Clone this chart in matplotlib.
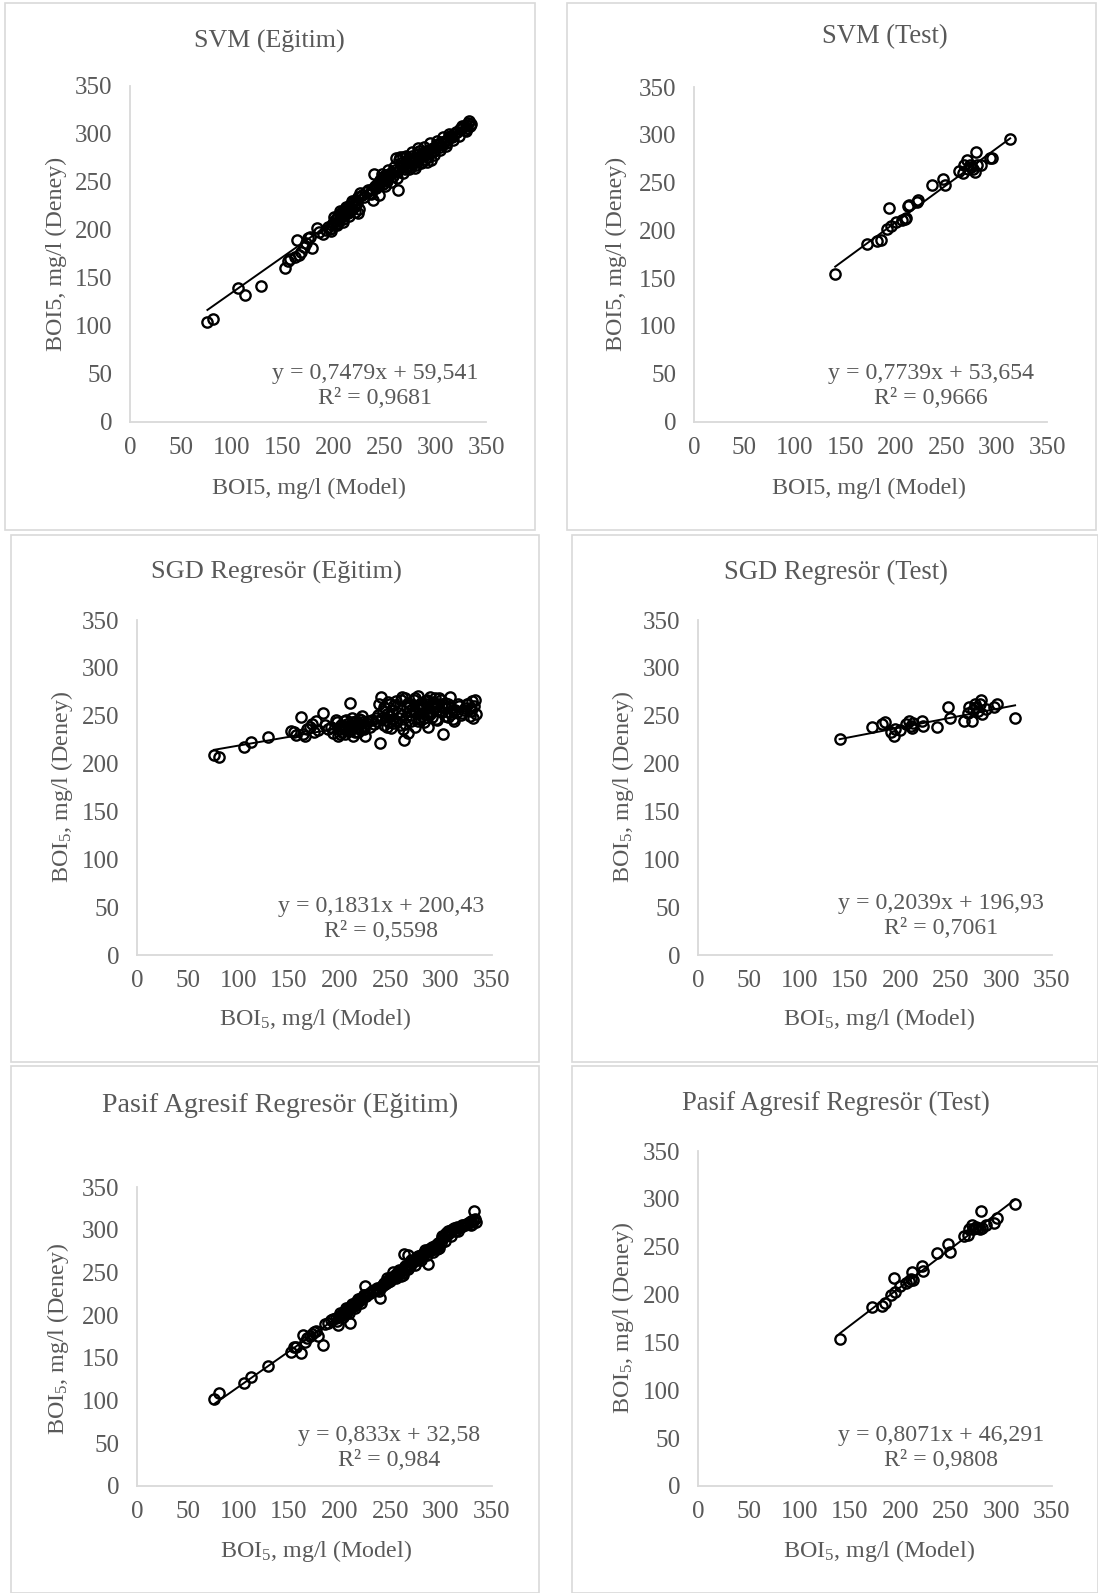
#!/usr/bin/env python3
"""Six scatter panels: model vs. measured BOI5 for SVM, SGD and Passive-Aggressive
regressors (training and test sets), each with an Excel-style linear trendline."""
import numpy as np
import matplotlib
matplotlib.use("Agg")
import matplotlib.pyplot as plt
from matplotlib.patches import Rectangle

plt.rcParams["font.family"] = ["Liberation Serif", "DejaVu Serif"]
plt.rcParams["mathtext.fontset"] = "custom"
plt.rcParams["mathtext.rm"] = "Liberation Serif"
plt.rcParams["mathtext.default"] = "regular"

# ---- data ------------------------------------------------------------------
TRAIN_X = [76, 81, 106, 113, 129, 152, 155, 157, 162, 164, 166, 168, 171, 173, 175,
           177, 179, 184, 186, 189, 192, 194, 196, 198, 199, 201, 202, 203, 204, 205,
           206, 207, 208, 209, 210, 211, 212, 213, 214, 215, 216, 217, 218, 219, 220,
           221, 222, 223, 224, 225, 226, 228, 230, 232, 234, 236, 237, 238, 239, 240,
           241, 242, 243, 244, 245, 246, 247, 248, 249, 250, 251, 252, 253, 254, 256,
           258, 260, 261, 262, 263, 264, 265, 266, 267, 268, 269, 270, 271, 272, 273,
           274, 275, 276, 277, 278, 279, 280, 281, 282, 283, 284, 285, 286, 287, 288,
           289, 290, 291, 292, 293, 294, 295, 296, 297, 298, 300, 301, 302, 304, 305,
           307, 309, 310, 312, 314, 316, 318, 321, 324, 327, 329, 330, 331, 332, 333, 334,
           197, 200, 203, 206, 209, 212, 215, 218, 221, 224, 244, 247, 250, 253, 256,
           259, 262, 265, 268, 271, 274, 277, 280, 283, 286, 289, 292, 295, 298, 301,
           304, 307, 310, 313, 317, 320, 323, 326, 330, 335]
SVM_TRAIN_Y = [104, 107, 139, 132, 141, 160, 167, 170, 172, 189, 174, 177, 182, 186, 191,
               192, 181, 202, 198, 196, 200, 203, 201, 205, 207, 210, 206, 212, 214, 209,
               216, 213, 219, 211, 215, 220, 217, 223, 218, 225, 221, 227, 222, 229, 224,
               226, 231, 228, 218, 222, 238, 236, 234, 239, 241, 238, 237, 243, 231, 258,
               246, 244, 249, 247, 252, 250, 254, 248, 256, 253, 257, 251, 255, 258, 259,
               256, 262, 275, 260, 242, 273, 264, 270, 266, 276, 268, 263, 271, 265, 274,
               268, 272, 266, 277, 270, 273, 275, 268, 279, 274, 282, 276, 278, 271, 280,
               277, 274, 282, 279, 276, 283, 280, 273, 285, 282, 286, 288, 290, 286, 292,
               289, 293, 291, 295, 298, 297, 300, 302, 305, 307, 304, 309, 306, 311, 313, 308,
               199, 213, 205, 220, 208, 224, 214, 230, 219, 234, 236, 258, 246, 262, 250,
               265, 254, 276, 259, 277, 263, 281, 264, 285, 270, 286, 271, 291, 278, 293,
               283, 297, 287, 300, 294, 302, 298, 308, 303, 310]
SGD_TRAIN_Y = [208.5, 207, 217, 223, 228, 234, 233, 230, 249, 231, 229, 236, 238, 241, 233,
               244, 235, 253, 240, 236, 238, 232, 246, 229, 236, 240, 233, 238, 245, 231,
               237, 241, 234, 239, 263, 236, 243, 229, 240, 237, 244, 238, 233, 247, 241,
               236, 250, 243, 239, 229, 242, 245, 238, 246, 241, 248, 244, 251, 262, 222,
               270, 248, 255, 240, 258, 246, 252, 264, 243, 250, 237, 256, 247, 261, 245,
               253, 240, 266, 251, 236, 225, 268, 249, 259, 232, 255, 262, 244, 257, 266,
               238, 253, 260, 271, 247, 256, 263, 250, 258, 243, 265, 252, 262, 238, 254,
               270, 261, 249, 264, 257, 268, 260, 246, 262, 255, 266, 259, 231, 250, 258,
               262, 270, 252, 247, 256, 254, 260, 253, 258, 262, 250, 255, 265, 248, 260, 266,
               243, 231, 239, 246, 234, 248, 233, 241, 246, 236, 259, 238, 262, 242, 265,
               248, 270, 241, 263, 251, 268, 244, 260, 248, 266, 252, 262, 247, 268, 254,
               263, 249, 258, 244, 262, 251, 256, 262, 258, 252]
PA_TRAIN_Y = [101.6, 108.6, 121, 127.4, 140, 157, 163, 163, 156, 177, 168, 173, 176, 178, 180,
              182, 176, 165, 190, 191, 194, 195, 197, 189, 198, 200, 201, 203, 202, 205,
              206, 204, 208, 207, 191, 210, 209, 212, 211, 213, 215, 214, 217, 216, 218,
              220, 219, 221, 223, 234, 222, 225, 226, 228, 229, 230, 232, 231, 228, 220,
              233, 234, 235, 236, 237, 238, 240, 239, 241, 243, 242, 245, 244, 246, 248,
              250, 251, 246, 253, 247, 271, 256, 255, 258, 270, 260, 258, 262, 261, 263,
              264, 266, 264, 268, 267, 269, 270, 268, 272, 273, 276, 274, 275, 260, 277,
              278, 276, 280, 279, 277, 281, 280, 278, 284, 282, 285, 293, 290, 294, 296,
              298, 297, 300, 301, 299, 303, 302, 305, 306, 308, 309, 310, 307, 311, 322, 312,
              193, 202, 198, 208, 203, 213, 208, 219, 214, 224, 238, 243, 240, 250, 244,
              253, 249, 258, 254, 264, 259, 269, 265, 272, 270, 277, 274, 282, 279, 290,
              287, 295, 293, 302, 298, 303, 305, 307, 306, 309]

TEST_X = [140, 172, 181.5, 185, 191, 193.5, 195, 200, 206, 209, 210.5, 212, 213, 221.5,
          222, 236, 247, 249, 262.5, 266.5, 268, 271, 271.7, 273.4, 275, 277, 278.5, 280,
          281, 285, 293, 295.5, 313.5]
SVM_TEST_Y = [154, 186, 189, 189.5, 201, 223, 205, 208.5, 210.7, 212, 213, 225.5, 227, 229.8,
              232, 247, 254, 247, 262.6, 260, 268, 274, 264, 268.6, 266, 264, 261, 282,
              268, 268, 275.7, 275.7, 296]
SGD_TEST_Y = [226, 238.6, 241, 243.5, 233, 228.7, 236.5, 234.7, 241, 244.6, 239, 237.5, 242,
              245, 239, 238, 259, 248, 244.6, 253, 258.7, 245, 256, 262, 258.7, 255, 262,
              266.9, 252, 257, 258.7, 262, 247.4]
PA_TEST_Y = [154, 187, 188.5, 190.7, 199.4, 217.6, 203, 208.5, 212.5, 214.7, 216, 224, 215,
             229.7, 225, 243, 252.6, 245, 260.7, 262.5, 268.7, 272.3, 268, 269.8, 271, 270,
             268, 287, 270, 272.3, 275, 279.6, 294.6]

# trendline coefficients as printed on the chart
SLOPES = [0.7479, 0.7739, 0.1831, 0.2039, 0.833, 0.8071]
INTERCEPTS = [59.541, 53.654, 200.43, 196.93, 32.58, 46.291]
EQUATIONS = ["y = 0,7479x + 59,541", "y = 0,7739x + 53,654", "y = 0,1831x + 200,43",
             "y = 0,2039x + 196,93", "y = 0,833x + 32,58", "y = 0,8071x + 46,291"]
R2_TEXT = ["R² = 0,9681", "R² = 0,9666", "R² = 0,5598", "R² = 0,7061", "R² = 0,984",
           "R² = 0,9808"]
TITLES = ["SVM (Eğitim)", "SVM (Test)", "SGD Regresör (Eğitim)", "SGD Regresör (Test)",
          "Pasif Agresif Regresör (Eğitim)", "Pasif Agresif Regresör (Test)"]
XLABELS = ["BOI5, mg/l (Model)"] * 2 + ["BOI$_5$, mg/l (Model)"] * 4
YLABELS = ["BOI5, mg/l (Deney)"] * 2 + ["BOI$_5$, mg/l (Deney)"] * 4
SERIES = [(TRAIN_X, SVM_TRAIN_Y), (TEST_X, SVM_TEST_Y), (TRAIN_X, SGD_TRAIN_Y),
          (TEST_X, SGD_TEST_Y), (TRAIN_X, PA_TRAIN_Y), (TEST_X, PA_TEST_Y)]
TICKS = [0, 50, 100, 150, 200, 250, 300, 350]

# ---- layout in pixels (top-down) ------------------------------------------
W, H = 1098, 1593
BOXES = [(5, 3, 535, 530), (567, 3, 1096, 530), (11, 535, 539, 1062),
         (572, 535, 1098, 1062), (11, 1066, 539, 1593), (572, 1066, 1098, 1593)]
AXES = [(130, 86, 486.5, 421.5), (694, 87, 1047, 421.5), (137, 620, 491.5, 955),
        (698, 620, 1052, 955), (137, 1187, 491.5, 1486), (698, 1151, 1052, 1486)]
TITLE_POS = [(269, 41), (885, 37), (276, 572), (836, 572), (280, 1105), (836, 1103)]
TITLE_SIZE = [18.7, 19.2, 19, 19.2, 20.2, 19.1]
EQ_POS = [(375, 373), (931, 373), (381, 906), (941, 903), (389, 1435), (941, 1435)]
XLAB_POS = [(309, 488), (869, 488), (315, 1019), (879, 1019), (316, 1551), (879, 1551)]
YLAB_POS = [(56, 254), (616, 254), (62, 787), (623, 787), (58, 1339), (623, 1318)]

GREY_TXT = "#595959"
GREY_LINE = "#d9d9d9"


def fx(px):
    return px / W


def fy(py):
    return 1 - py / H


fig = plt.figure(figsize=(W / 100, H / 100), dpi=100)

for i in range(6):
    bx0, by0, bx1, by1 = BOXES[i]
    fig.patches.append(Rectangle((fx(bx0), fy(by1)), fx(bx1 - bx0), (by1 - by0) / H,
                                 transform=fig.transFigure, fill=False,
                                 edgecolor=GREY_LINE, lw=1.2))
    ax0, ay0, ax1, ay1 = AXES[i]
    ax = fig.add_axes([fx(ax0), fy(ay1), fx(ax1 - ax0), (ay1 - ay0) / H])
    x, y = SERIES[i]
    ax.plot(x, y, "o", ms=7.4, mfc="none", mec="black", mew=1.7, zorder=3)
    xl = np.array([min(x), max(x)])
    ax.plot(xl, SLOPES[i] * xl + INTERCEPTS[i], color="black", lw=1.4, zorder=2)

    ax.set_xlim(0, 350)
    ax.set_ylim(0, 350)
    ax.set_xticks(TICKS)
    ax.set_yticks(TICKS)
    for s in ("top", "right"):
        ax.spines[s].set_visible(False)
    for s in ("left", "bottom"):
        ax.spines[s].set_color(GREY_LINE)
        ax.spines[s].set_linewidth(1.3)
    ax.tick_params(axis="x", length=0, pad=11, labelsize=18, colors=GREY_TXT)
    ax.tick_params(axis="y", length=0, pad=12.5, labelsize=18, colors=GREY_TXT)

    def to_ax(p):
        return ((p[0] - ax0) / (ax1 - ax0), (ay1 - p[1]) / (ay1 - ay0))

    ax.set_xlabel(XLABELS[i], fontsize=17.3, color=GREY_TXT)
    ax.set_ylabel(YLABELS[i], fontsize=17.3, color=GREY_TXT)
    ax.xaxis.set_label_coords(*to_ax(XLAB_POS[i]))
    ax.yaxis.set_label_coords(*to_ax(YLAB_POS[i]))
    ax.xaxis.label.set_va("center")
    ax.yaxis.label.set_va("center")

    fig.text(fx(TITLE_POS[i][0]), fy(TITLE_POS[i][1]), TITLES[i], ha="center",
             va="center", fontsize=TITLE_SIZE[i], color=GREY_TXT)
    ex, ey = EQ_POS[i]
    fig.text(fx(ex), fy(ey), EQUATIONS[i], ha="center", va="center", fontsize=17.2,
             color=GREY_TXT)
    fig.text(fx(ex), fy(ey + 25.5), R2_TEXT[i], ha="center", va="center", fontsize=17.2,
             color=GREY_TXT)

fig.savefig("out.png", dpi=100, facecolor="white")
